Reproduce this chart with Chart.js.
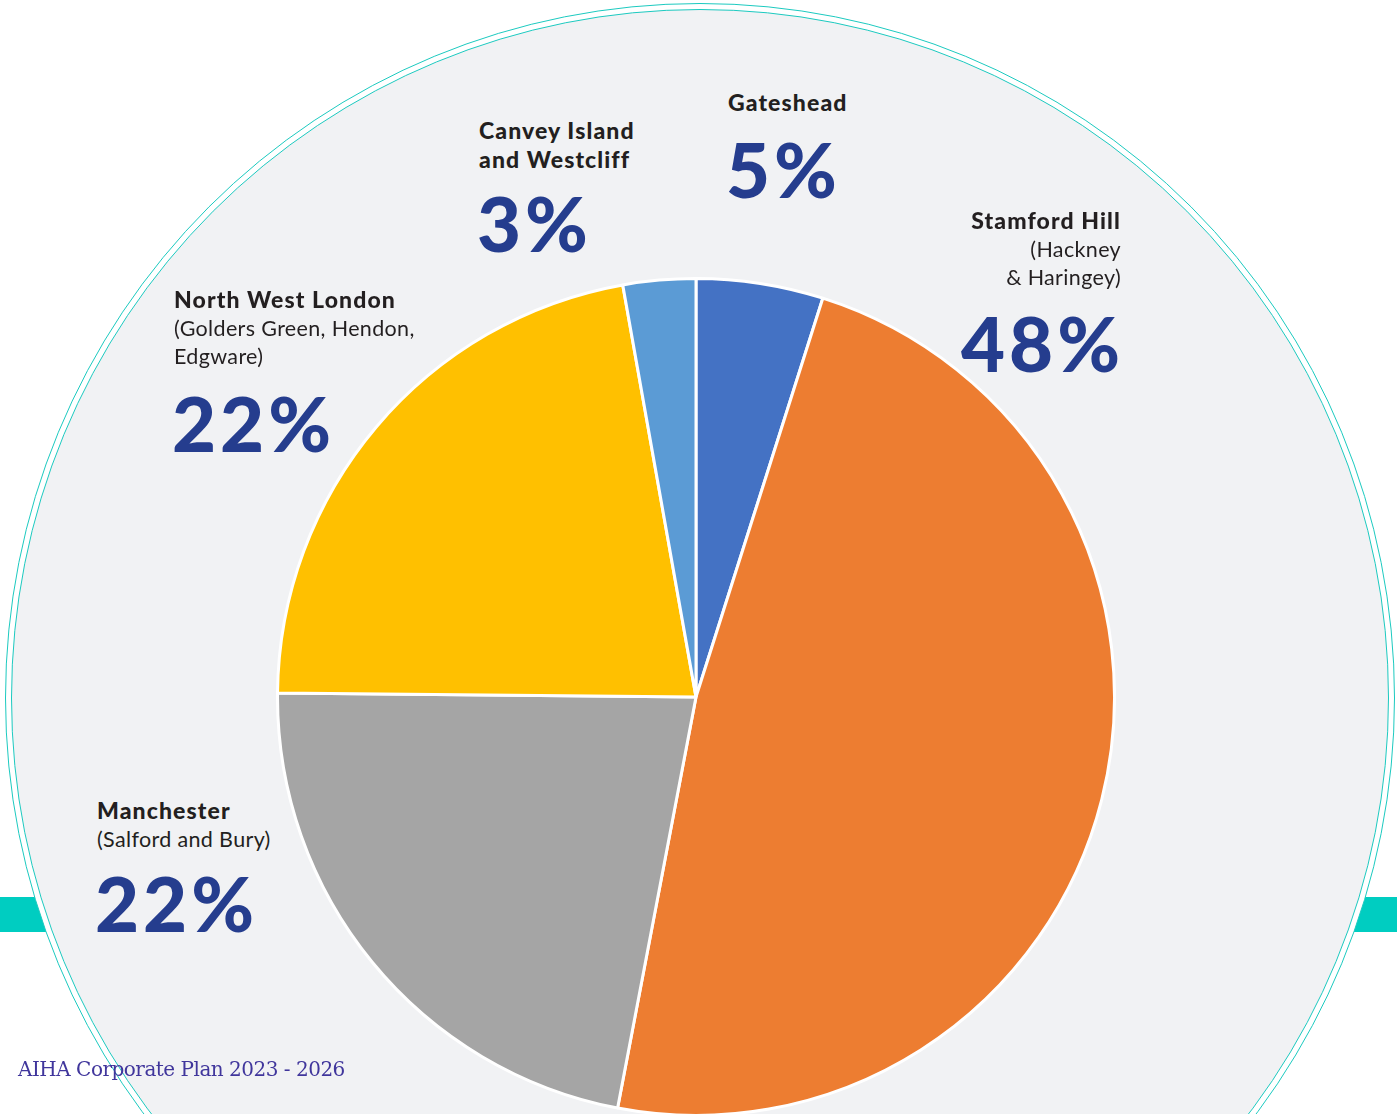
<!DOCTYPE html>
<html lang="en">
  <head>
    <meta charset="UTF-8" />
    <title>AIHA - homes by area</title>
    <script src="https://cdn.jsdelivr.net/npm/chart.js"></script>
    <style>
      html, body {
        margin: 0;
        padding: 0;
        width: 1397px;
        height: 1114px;
        overflow: hidden;
        background: #ffffff;
        font-family: Lato, "Open Sans", sans-serif;
      }

      .bar {
        position: absolute;
        top: 897px;
        height: 35px;
        background: #00cdc1;
      }

      .ring {
        position: absolute;
        border-radius: 50%;
        box-sizing: border-box;
        border: 1.5px solid #1ccac0;
      }

      #pieWrap {
        position: absolute;
        left: 276px;
        top: 277px;
        width: 840px;
        height: 840px;
      }

      .name {
        position: absolute;
        color: #231f20;
        line-height: 27px;
        white-space: nowrap;
      }
      .name b {
        font-weight: 900;
        font-size: 23px;
        letter-spacing: 1.1px;
      }
      .name span {
        font-weight: 400;
        font-size: 21.5px;
        letter-spacing: 0.35px;
      }

      .pct {
        position: absolute;
        color: #253d8e;
        font-weight: 900;
        font-size: 76px;
        line-height: 76px;
        letter-spacing: 4px;
        white-space: nowrap;
      }

      #footer {
        position: absolute;
        left: 18px;
        top: 1057px;
        font-family: "DejaVu Serif", "Liberation Serif", serif;
        font-size: 20px;
        letter-spacing: -0.5px;
        color: #40369c;
        white-space: nowrap;
      }
    </style>
  </head>
  <body>
    <div class="bar" style="left: 0; width: 60px"></div>
    <div class="bar" style="left: 1340px; width: 57px"></div>
    <div class="ring" style="left: 5px; top: 3px; width: 1390px; height: 1390px; background: #fff"></div>
    <div class="ring" style="left: 11px; top: 9px; width: 1378px; height: 1378px; background: #f1f2f4"></div>

    <div id="pieWrap"><canvas id="pieChart" width="840" height="840"></canvas></div>
    <div id="labels"></div>
    <div id="footer">AIHA Corporate Plan 2023 - 2026</div>

    <script>
      // share of homes per area, clockwise from 12 o'clock
      const areas = ["Gateshead", "Stamford Hill", "Manchester", "North West London", "Canvey Island"];
      const areaLines = [
        ["Gateshead"],
        ["Stamford Hill"],
        ["Manchester"],
        ["North West London"],
        ["Canvey Island", "and Westcliff"],
      ];
      const areaNotes = [
        [],
        ["(Hackney", "& Haringey)"],
        ["(Salford and Bury)"],
        ["(Golders Green, Hendon,", "Edgware)"],
        [],
      ];
      const shares = [4.9, 48.1, 22.15, 22.05, 2.8];
      const colors = ["#4472c4", "#ed7d31", "#a5a5a5", "#ffc000", "#5b9bd5"];

      // where each label block sits (cap-top of first line / of the percentage)
      const labelPos = [
        { x: 728, align: "left", nameTop: 95, pctTop: 144 },
        { x: 1120, align: "right", nameTop: 213, pctTop: 318 },
        { x: 97, align: "left", nameTop: 803, pctTop: 878 },
        { x: 174, align: "left", nameTop: 292, pctTop: 398 },
        { x: 479, align: "left", nameTop: 123, pctTop: 198 },
      ];

      const labelsDiv = document.getElementById("labels");
      areas.forEach((area, i) => {
        const p = labelPos[i];
        const name = document.createElement("div");
        name.className = "name";
        name.style.top = p.nameTop - 6 + "px";
        name.style.textAlign = p.align;
        let html = areaLines[i].map((l) => "<b>" + l + "</b>").join("<br>");
        areaNotes[i].forEach((l) => (html += "<br><span>" + l + "</span>"));
        name.innerHTML = html;

        const pct = document.createElement("div");
        pct.className = "pct";
        pct.style.top = p.pctTop - 13 + "px";
        pct.textContent = Math.round(shares[i]) + "%";

        if (p.align === "right") {
          name.style.right = 1397 - p.x - 1 + "px";
          pct.style.right = 1397 - p.x - 4 + "px";
        } else {
          name.style.left = p.x + "px";
          pct.style.left = p.x - 2 + "px";
        }
        labelsDiv.appendChild(name);
        labelsDiv.appendChild(pct);
      });

      const ctx = document.getElementById("pieChart").getContext("2d");
      new Chart(ctx, {
        type: "pie",
        data: {
          labels: areas,
          datasets: [
            {
              data: shares,
              backgroundColor: colors,
              borderColor: "#ffffff",
              borderWidth: 3,
              hoverOffset: 0,
            },
          ],
        },
        options: {
          responsive: false,
          animation: false,
          layout: { padding: 0 },
          plugins: {
            legend: { display: false },
            tooltip: { enabled: false },
          },
        },
      });
    </script>
  </body>
</html>
